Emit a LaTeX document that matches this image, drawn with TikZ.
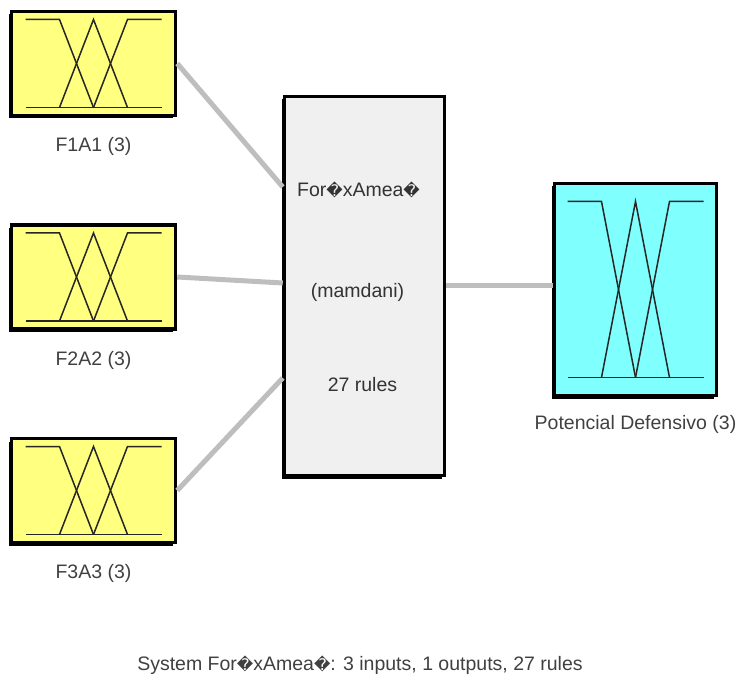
\documentclass[tikz,border=0pt]{standalone}
\usepackage{fontspec}
\setmainfont{Liberation Sans}
\newfontfamily\replfont{DejaVu Sans}
\usetikzlibrary{positioning, shadows}
\definecolor{inputbg}{RGB}{255,255,128}
\definecolor{outputbg}{RGB}{128,255,255}
\definecolor{rulebg}{RGB}{240,240,240}
\definecolor{wire}{RGB}{190,190,190}
\definecolor{textgray}{RGB}{64,64,64}
\newcommand{\qmark}{{\replfont\fontsize{16}{16}\selectfont\symbol{"FFFD}}}
\tikzset{
  fisbox/.style={rectangle, draw=black, line width=3.5pt, inner sep=0pt,
    drop shadow={shadow xshift=-3pt, shadow yshift=-3pt, fill=black, opacity=1}},
  inbox/.style={fisbox, fill=inputbg, minimum width=164pt, minimum height=104pt},
  outbox/.style={fisbox, fill=outputbg, minimum width=162pt, minimum height=212pt},
  rulebox/.style={fisbox, fill=rulebg, minimum width=160pt, minimum height=379pt},
  mf/.style={draw=black!85, line width=1.5pt},
  wireline/.style={draw=wire, line width=5pt},
  varlabel/.style={font=\fontsize{19.5}{23}\selectfont, text=textgray, inner sep=0pt},
  ruletext/.style={font=\fontsize{19.5}{23}\selectfont, text=black!80, inner sep=0pt},
}
% three membership functions round a node centre
\newcommand{\mfshape}[2]{%
  \begin{scope}[shift={(#1.center)}]
    \draw[mf] (-68,#2) -- (68,#2);
    \draw[mf] (-68,-#2) -- (-34,-#2) -- (0,#2);
    \draw[mf] (-34,#2) -- (0,-#2) -- (34,#2);
    \draw[mf] (0,#2) -- (34,-#2) -- (68,-#2);
  \end{scope}}

\begin{document}
\begin{tikzpicture}[x=1pt, y=-1pt]
\useasboundingbox (0,0) rectangle (742,679);

% inputs
\node[inbox] (in1) at (93.5,63.5) {};
\node[inbox] (in2) at (93.5,277) {};
\node[inbox] (in3) at (93.5,490.5) {};
\mfshape{in1}{44}
\mfshape{in2}{44}
\mfshape{in3}{44}
\node[varlabel, below=20pt of in1] (lab1) {F1A1 (3)};
\node[varlabel, below=20pt of in2] (lab2) {F2A2 (3)};
\node[varlabel, below=20pt of in3] (lab3) {F3A3 (3)};

% rule block
\node[rulebox] (rule) at (364.5,286) {};
\node[ruletext] (rname) at ([shift={(-6,-96)}]rule.center) {For\qmark xAmea\qmark};
\node[ruletext] (rtype) at ([shift={(-7,6)}]rule.center) {(mamdani)};
\node[ruletext] (rcount) at ([shift={(-2,99)}]rule.center) {27 rules};

% output
\node[outbox] (out) at (635.5,289.5) {};
\mfshape{out}{88}
\node[varlabel, below=18pt of out] (lab4) {Potencial Defensivo (3)};

% connectors
\draw[wireline] (in1.east) -- ([yshift=99pt]rule.west);
\draw[wireline] (in2.east) -- ([yshift=3pt]rule.west);
\draw[wireline] (in3.east) -- ([yshift=-92pt]rule.west);
\draw[wireline] (rule.east) -- (rule.east -| out.west);

\node[varlabel] (caption) at (360,665) {System For\qmark xAmea\qmark: 3 inputs, 1 outputs, 27 rules};
\end{tikzpicture}
\end{document}
